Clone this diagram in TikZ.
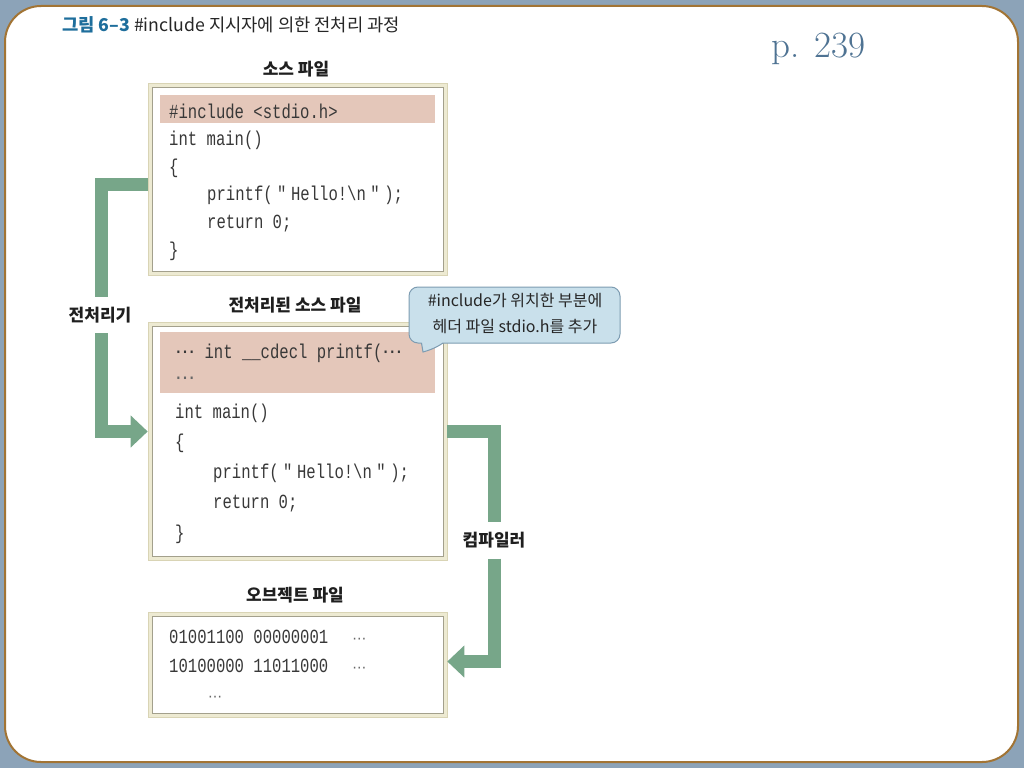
\documentclass[tikz,border=0pt]{standalone}
\usepackage{fontspec}
\newfontfamily\kr{Noto Sans CJK KR}
\newfontfamily\codefont[FakeStretch=0.78,Ligatures=TeXOff]{Liberation Mono}
\newfontfamily\dvs{DejaVu Sans}
\usetikzlibrary{arrows.meta}
\definecolor{bgblue}{HTML}{8CA3B8}
\definecolor{framebrown}{HTML}{A27434}
\definecolor{boxbeige}{HTML}{EDEAD2}
\definecolor{boxbeigeline}{HTML}{D9D4B5}
\definecolor{innerline}{HTML}{A3A08C}
\definecolor{hlpink}{HTML}{E4C7BA}
\definecolor{arrowgreen}{HTML}{77A689}
\definecolor{callfill}{HTML}{C9E0EB}
\definecolor{callline}{HTML}{7D9CB2}
\definecolor{codegray}{HTML}{383838}
\definecolor{dotgray}{HTML}{666666}
\definecolor{titleblue}{HTML}{1E6E9C}
\definecolor{pagecol}{HTML}{4F7393}
\newcommand\mydotsc{{\dvs ⋯}}
\newcommand\hs{\hspace{4.5pt}}
\begin{document}
\begin{tikzpicture}[x=1pt,y=-1pt,
  outerbox/.style={draw=boxbeigeline, fill=boxbeige, line width=0.6pt, inner sep=0pt},
  innerbox/.style={draw=innerline, fill=white, line width=0.8pt},
  hl/.style={fill=hlpink},
  codeblock/.style={anchor=base west, inner sep=0pt, align=left, text=codegray},
  lbl/.style={font=\kr\bfseries\fontsize{17}{20}\selectfont, text=black!88, inner sep=0pt},
  bigbar/.style={draw=arrowgreen, line width=13pt, line cap=butt, line join=miter},
  bigarrow/.style={bigbar, -{Triangle[width=31pt,length=17pt]}},
  calltext/.style={font=\kr\fontsize{16}{26}\selectfont, align=center, text=black!85, inner sep=0pt}
]
\useasboundingbox (0,0) rectangle (1024,768);
\fill[bgblue] (0,0) rectangle (1024,768);
\filldraw[fill=white, draw=framebrown, line width=2pt, rounded corners=36pt] (5,6) rectangle (1018,762);

% title and page
\node[anchor=west, inner sep=0pt, font=\kr\fontsize{17.7}{20}\selectfont, text=black!85] (title) at (62,25)
  {{\color{titleblue}\bfseries 그림 6–3} \#include 지시자에 의한 전처리 과정};
\node[anchor=base west, inner sep=0pt, text=pagecol, font=\fontsize{37}{40}\selectfont] (page) at (771,57) {p. 239};

% boxes
\node[outerbox, minimum width=299pt, minimum height=192pt] (src) at (297.5,179) {};
\filldraw[innerbox] ([shift={(5,5)}]src.north west) rectangle ([shift={(-4,-4)}]src.south east);
\node[outerbox, minimum width=299pt, minimum height=238pt] (pre) at (297.5,441) {};
\filldraw[innerbox] ([shift={(5,5)}]pre.north west) rectangle ([shift={(-4,-4)}]pre.south east);
\node[outerbox, minimum width=299pt, minimum height=105pt] (obj) at (297.5,664.5) {};
\filldraw[innerbox] ([shift={(5,5)}]obj.north west) rectangle ([shift={(-4,-4)}]obj.south east);

\fill[hl] (160,95) rectangle (435,123);
\fill[hl] (160,332) rectangle (435,393);

% box titles
\node[lbl] (tsrc) at (296,69) {소스 파일};
\node[lbl] (tpre) at (295,305) {전처리된 소스 파일};
\node[lbl] (tobj) at (295,595) {오브젝트 파일};

% code (base anchor = baseline of the last line)
\node[codeblock, font=\codefont\fontsize{20}{27.6}\selectfont] (csrc) at (169,256)
  {\#include <stdio.h>\\
   int main()\\
   \{\\
   \hspace*{38pt}printf(\hs"\hs Hello!\textbackslash n\hs"\hs);\\
   \hspace*{38pt}return 0;\\
   \}};
\node[codeblock, font=\codefont\fontsize{20}{26}\selectfont] (cpre1) at (175,384)
  {\mydotsc\ int \_\_cdecl printf(\mydotsc\\
   {\color{dotgray}\mydotsc}};
\node[codeblock, font=\codefont\fontsize{20}{30.25}\selectfont] (cpre2) at (175,539)
  {int main()\\
   \{\\
   \hspace*{38pt}printf(\hs"\hs Hello!\textbackslash n\hs"\hs);\\
   \hspace*{38pt}return 0;\\
   \}};
\node[codeblock, font=\codefont\fontsize{20}{29}\selectfont] (cobj) at (169,701)
  {01001100 00000001\hspace*{24pt}{\color{dotgray}\fontsize{14}{14}\selectfont\mydotsc}\\
   10100000 11011000\hspace*{24pt}{\color{dotgray}\fontsize{14}{14}\selectfont\mydotsc}\\
   \hspace*{39pt}{\color{dotgray}\fontsize{14}{14}\selectfont\mydotsc}};

% arrow labels
\node[lbl, minimum height=36pt] (lpp) at (100,315) {전처리기};
\node[lbl, minimum height=36pt] (lcc) at (494,540.5) {컴파일러};

\coordinate (ya) at (0,184.5);
\coordinate (yb) at (0,431.5);
\coordinate (yc) at (0,661.5);

\draw[bigbar] (src.west |- ya) -| ([xshift=1.5pt]lpp.north);
\draw[bigarrow] ([xshift=1.5pt]lpp.south) |- (pre.west |- yb);
\draw[bigbar] (pre.east |- yb) -| (lcc.north);
\draw[bigarrow] (lcc.south) |- (obj.east |- yc);

% callout
\filldraw[fill=callfill, draw=callline, line width=1pt, rounded corners=9pt] (409,287) rectangle (620,343);
\fill[callfill] (421.5,341.2) -- (421.5,343) -- (423,352) .. controls (434,349) and (440,345) .. (443,343) -- (443,341.2) -- cycle;
\draw[callline, line width=1pt] (421.5,343) -- (423,352) .. controls (434,349) and (440,345) .. (443,343);
\node[calltext] (ctext) at (515,314) {\#include가 위치한 부분에\\헤더 파일 stdio.h를 추가};
\end{tikzpicture}
\end{document}
